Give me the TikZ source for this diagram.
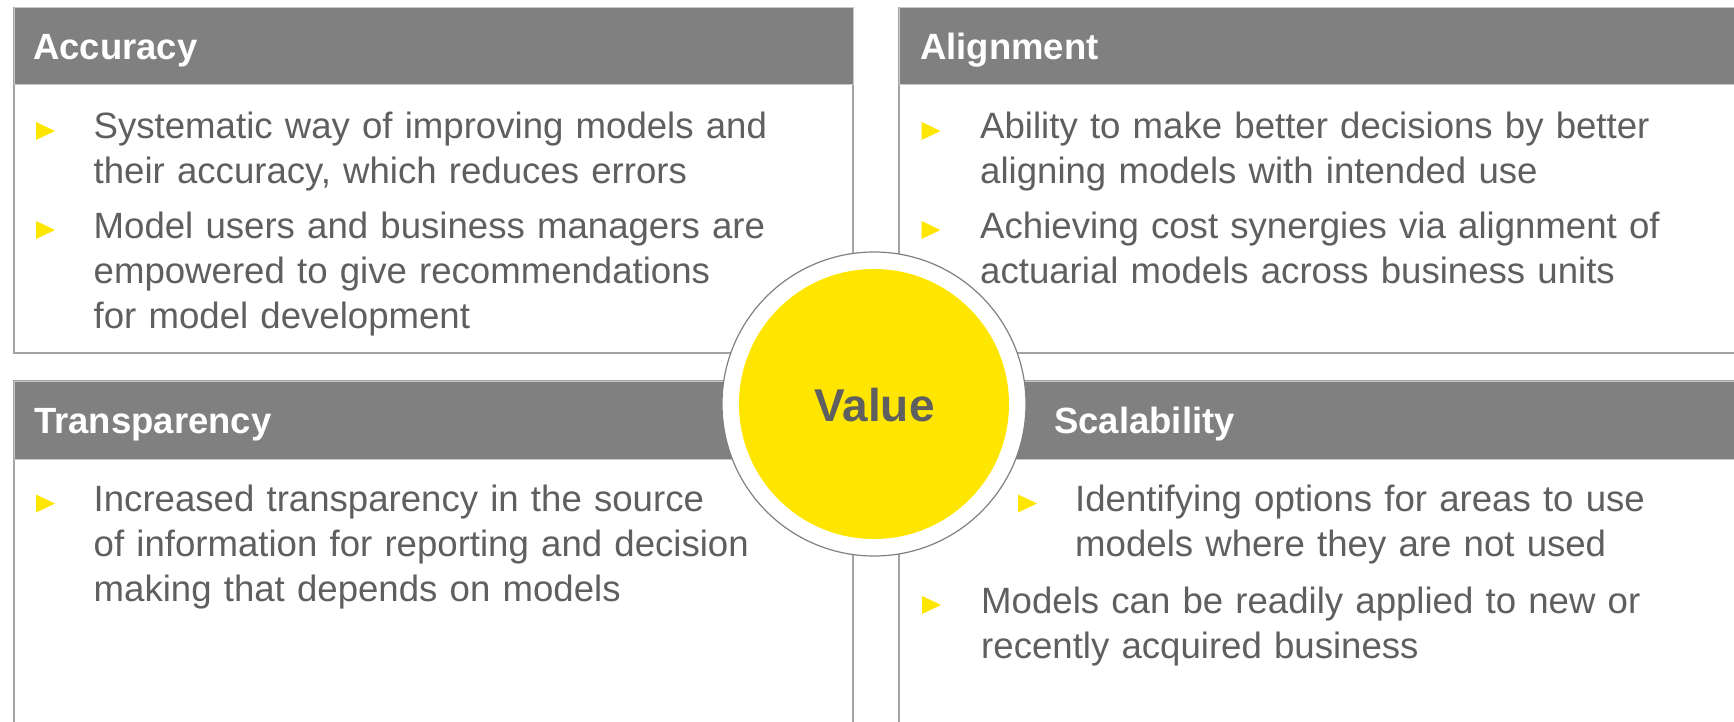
\documentclass[tikz,border=0pt]{standalone}
\usepackage{fontspec}
\setmainfont{Liberation Sans}
\usetikzlibrary{positioning}

\definecolor{hdrgray}{HTML}{808080}
\definecolor{linegray}{HTML}{A3A3A3}
\definecolor{txtgray}{HTML}{5F5F5F}
\definecolor{eyyellow}{HTML}{FFE600}

% yellow bullet in front of an item node
\newcommand{\itemmark}[2]{\fill[eyyellow] ([xshift=-#2pt,yshift=-1pt]#1.base west) -- ++(0,-18) -- ++(19,9) -- cycle;}

\begin{document}
\begin{tikzpicture}[
    x=1pt, y=-1pt,
    panel/.style={draw=linegray, line width=1.5pt, fill=white},
    header/.style={draw=linegray!60, line width=1pt, fill=hdrgray},
    title/.style={anchor=base west, inner sep=0pt, text=white, font=\fontsize{36.5}{44}\selectfont\bfseries},
    item/.style={anchor=base west, inner sep=0pt, text width=760pt, align=left, text=txtgray, font=\fontsize{36.6}{45}\selectfont},
    ring/.style={circle, draw=gray, line width=1.2pt, fill=white, minimum size=304pt, inner sep=0pt},
    core/.style={circle, fill=eyyellow, minimum size=270pt, inner sep=0pt}
]
\useasboundingbox (0,0) rectangle (1734,722);
\clip (0,0) rectangle (1734,722);

% panels
\draw[panel] (14,8) rectangle (853,353);
\draw[panel] (899,8) rectangle (1750,353);
\draw[panel] (14,381) rectangle (853,740);
\draw[panel] (899,381) rectangle (1750,740);

\draw[header] (14,8) rectangle (853,85);
\draw[header] (899,8) rectangle (1750,85);
\draw[header] (14,381) rectangle (853,459);
\draw[header] (899,381) rectangle (1750,459);

\node[title] (acchead) at (33,60) {Accuracy};
\node[title] (alihead) at (920,60) {Alignment};
\node[title] (trahead) at (34,433) {Transparency};
\node[title] (scahead) at (1054,433) {Scalability};

% accuracy
\node[item] (acc1) at (93.5,139) {Systematic way of improving models and\\their accuracy, which reduces errors};
\node[item] (acc2) at (93.5,238) {Model users and business managers are\\empowered to give recommendations\\for model development};
\itemmark{acc1}{57.5}
\itemmark{acc2}{57.5}

% alignment
\node[item] (ali1) at (980,139) {Ability to make better decisions by better\\aligning models with intended use};
\node[item] (ali2) at (980,238) {Achieving cost synergies via alignment of\\actuarial models across business units};
\itemmark{ali1}{58.5}
\itemmark{ali2}{58.5}

% transparency
\node[item] (tra1) at (93.5,511.5) {Increased transparency in the source\\of information for reporting and decision\\making that depends on models};
\itemmark{tra1}{57.5}

% scalability
\node[item] (sca1) at (1075,511.5) {Identifying options for areas to use\\models where they are not used};
\node[item] (sca2) at (981,613) {Models can be readily applied to new or\\recently acquired business};
\itemmark{sca1}{57}
\itemmark{sca2}{59}

% centre
\node[ring] (outer) at (874,404) {};
\node[core] (inner) at (874,404) {};
\node[anchor=base, inner sep=0pt, text=txtgray, font=\fontsize{46}{50}\selectfont\bfseries] (value) at (874.5,421.5) {Value};

\end{tikzpicture}
\end{document}
